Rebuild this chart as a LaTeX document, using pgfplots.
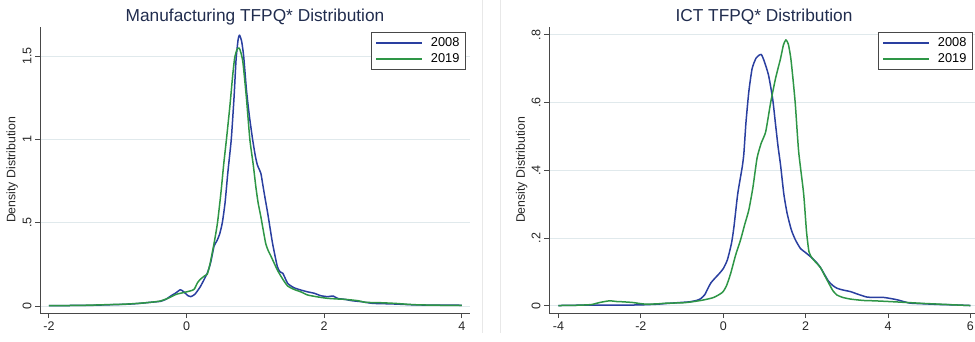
\documentclass[border=0pt]{standalone}
\usepackage{pgfplots}
\pgfplotsset{compat=1.18}
\usepackage{fontspec}
\setmainfont{Liberation Sans}

\definecolor{lineblue}{RGB}{42,63,160}
\definecolor{linegreen}{RGB}{46,150,70}
\definecolor{titlenavy}{RGB}{32,44,78}
\definecolor{gridc}{RGB}{224,233,236}
\definecolor{axisc}{RGB}{72,72,72}
\definecolor{framec}{RGB}{232,232,232}

\pgfplotsset{
  densitypanel/.style={
    scale only axis, height=286pt,
    axis x line*=bottom, axis y line*=left,
    axis line style={axisc, line width=0.9pt},
    tick style={axisc, line width=0.9pt},
    tick align=outside, major tick length=5pt,
    ymajorgrids, grid style={gridc, line width=1pt},
    tick label style={font=\fontsize{12.5}{14}\selectfont, text=black!85},
    yticklabel style={rotate=90, anchor=south},
    xticklabel style={anchor=north},
    legend cell align=left,
    legend style={at={(axis description cs:1,1)}, anchor=north east,
      yshift=-5pt, draw=axisc, very thick,
      font=\fontsize{12.8}{15}\selectfont,
      inner xsep=4pt, inner ysep=3pt, row sep=2pt,
      /tikz/every odd column/.append style={column sep=6pt}},
    legend image code/.code={\draw[#1, line width=1.6pt] (0pt,0pt) -- (46pt,0pt);},
  },
  dens/.style={line width=1.5pt, smooth, tension=0.35, line join=round},
}

\begin{document}
\begin{tikzpicture}
\path[use as bounding box] (0pt,0pt) rectangle (975pt,341pt);
% faint outlines of the two graph regions
\draw[framec, line width=0.8pt] (482pt,8pt) -- (482pt,341pt);
\draw[framec, line width=0.8pt] (500pt,8pt) -- (500pt,341pt);

% ---------------- Manufacturing ----------------
\begin{axis}[densitypanel,
  at={(40pt,28pt)}, anchor=south west, width=430pt,
  xmin=-2.13, xmax=4.12, ymin=-0.042, ymax=1.674,
  xtick={-2,0,2,4}, xticklabels={-2,0,2,4},
  ytick={0,0.5,1,1.5}, yticklabels={0,.5,1,1.5},
  legend style={xshift=-4pt},
]
\addplot[lineblue, dens] coordinates {
(-2.0,0.002) (-1.7,0.003) (-1.4,0.004) (-1.16,0.007) (-0.9,0.01) (-0.7,0.015)
(-0.53,0.022) (-0.38,0.028) (-0.3,0.04) (-0.23,0.06) (-0.15,0.08) (-0.09,0.098)
(-0.04,0.085) (0.02,0.062) (0.06,0.056) (0.12,0.07) (0.2,0.116) (0.3,0.196)
(0.35,0.26) (0.4,0.36) (0.44,0.39) (0.48,0.43) (0.52,0.5) (0.56,0.62) (0.6,0.8)
(0.65,1.0) (0.69,1.25) (0.72,1.48) (0.75,1.6) (0.77,1.625) (0.8,1.59) (0.83,1.5)
(0.87,1.3) (0.91,1.15) (0.96,1.0) (1.0,0.9) (1.03,0.846) (1.08,0.796) (1.105,0.736)
(1.14,0.65) (1.18,0.556) (1.25,0.376) (1.32,0.236) (1.36,0.205) (1.4,0.196)
(1.47,0.136) (1.56,0.11) (1.66,0.096) (1.76,0.085) (1.86,0.076) (1.95,0.062)
(2.05,0.056) (2.13,0.06) (2.2,0.045) (2.3,0.04) (2.4,0.032) (2.54,0.026)
(2.7,0.016) (2.85,0.014) (3.02,0.012) (3.3,0.007) (3.6,0.005) (3.9,0.006) (4.0,0.003)
};
\addlegendentry{2008}
\addplot[linegreen, dens] coordinates {
(-2.0,0.002) (-1.7,0.003) (-1.4,0.005) (-1.16,0.008) (-0.9,0.011) (-0.7,0.016)
(-0.53,0.022) (-0.38,0.03) (-0.25,0.05) (-0.15,0.07) (-0.05,0.08) (0.05,0.09)
(0.11,0.1) (0.16,0.14) (0.2,0.16) (0.26,0.18) (0.3,0.19) (0.34,0.25) (0.4,0.376)
(0.45,0.5) (0.5,0.68) (0.54,0.85) (0.58,1.0) (0.63,1.2) (0.67,1.38) (0.7,1.49)
(0.735,1.54) (0.765,1.548) (0.79,1.52) (0.82,1.46) (0.87,1.25) (0.92,1.0)
(0.97,0.846) (1.007,0.716) (1.04,0.62) (1.08,0.536) (1.15,0.376) (1.19,0.33)
(1.23,0.296) (1.32,0.216) (1.4,0.16) (1.47,0.12) (1.56,0.1) (1.66,0.085)
(1.76,0.066) (1.9,0.055) (2.05,0.046) (2.2,0.042) (2.3,0.04) (2.49,0.032)
(2.6,0.022) (2.8,0.02) (3.02,0.016) (3.3,0.008) (3.6,0.005) (4.0,0.003)
};
\addlegendentry{2019}
\end{axis}

% ---------------- ICT ----------------
\begin{axis}[densitypanel,
  at={(549pt,28pt)}, anchor=south west, width=426pt,
  xmin=-4.23, xmax=6.11, ymin=-0.021, ymax=0.823,
  xtick={-4,-2,0,2,4,6}, xticklabels={-4,-2,0,2,4,6},
  ytick={0,0.2,0.4,0.6,0.8}, yticklabels={0,.2,.4,.6,.8},
  legend style={xshift=-2pt},
]
\addplot[lineblue, dens] coordinates {
(-4.0,0.001) (-3.5,0.002) (-3.0,0.002) (-2.5,0.002) (-2.0,0.003) (-1.6,0.005)
(-1.38,0.007) (-1.04,0.01) (-0.82,0.012) (-0.65,0.016) (-0.55,0.021) (-0.45,0.033)
(-0.38,0.05) (-0.3,0.068) (-0.2,0.082) (-0.1,0.095) (0.0,0.11) (0.1,0.136)
(0.2,0.185) (0.26,0.234) (0.35,0.33) (0.46,0.41) (0.5,0.45) (0.55,0.54)
(0.62,0.632) (0.7,0.7) (0.8,0.732) (0.92,0.742) (1.0,0.72) (1.1,0.68) (1.2,0.61)
(1.27,0.534) (1.33,0.47) (1.39,0.416) (1.47,0.33) (1.55,0.273) (1.65,0.225)
(1.75,0.195) (1.87,0.17) (2.0,0.157) (2.12,0.145) (2.25,0.13) (2.36,0.113)
(2.46,0.092) (2.56,0.072) (2.66,0.06) (2.76,0.052) (2.9,0.047) (3.09,0.042)
(3.3,0.033) (3.49,0.026) (3.7,0.025) (3.89,0.025) (4.05,0.022) (4.22,0.018)
(4.4,0.012) (4.54,0.008) (4.9,0.006) (5.27,0.004) (5.6,0.003) (6.0,0.001)
};
\addlegendentry{2008}
\addplot[linegreen, dens] coordinates {
(-4.0,0.001) (-3.5,0.002) (-3.2,0.004) (-3.0,0.01) (-2.76,0.015) (-2.6,0.013)
(-2.43,0.012) (-2.2,0.01) (-2.03,0.007) (-1.87,0.005) (-1.6,0.006) (-1.38,0.008)
(-1.0,0.009) (-0.82,0.011) (-0.5,0.017) (-0.23,0.025) (-0.02,0.04) (0.08,0.06)
(0.18,0.096) (0.3,0.15) (0.42,0.195) (0.52,0.24) (0.62,0.283) (0.72,0.35)
(0.82,0.436) (0.92,0.48) (1.03,0.514) (1.15,0.6) (1.27,0.672) (1.39,0.73)
(1.46,0.77) (1.52,0.785) (1.58,0.772) (1.64,0.73) (1.7,0.66) (1.75,0.593)
(1.83,0.455) (1.95,0.332) (2.02,0.22) (2.08,0.16) (2.15,0.142) (2.25,0.128)
(2.36,0.113) (2.46,0.09) (2.56,0.067) (2.66,0.045) (2.76,0.032) (2.9,0.025)
(3.09,0.02) (3.4,0.016) (3.65,0.015) (4.0,0.013) (4.46,0.01) (4.9,0.007)
(5.27,0.005) (5.6,0.003) (6.0,0.001)
};
\addlegendentry{2019}
\end{axis}

% titles and axis titles
\node[anchor=base, text=titlenavy, font=\fontsize{17.3}{20}\selectfont] at (255pt,319.3pt) {Manufacturing TFPQ* Distribution};
\node[anchor=base, text=titlenavy, font=\fontsize{17.3}{20}\selectfont] at (764pt,319.3pt) {ICT TFPQ* Distribution};
\node[rotate=90, font=\fontsize{12.3}{14}\selectfont, text=black!85] at (12.3pt,171pt) {Density Distribution};
\node[rotate=90, font=\fontsize{12.3}{14}\selectfont, text=black!85] at (521.7pt,171pt) {Density Distribution};
\end{tikzpicture}
\end{document}
